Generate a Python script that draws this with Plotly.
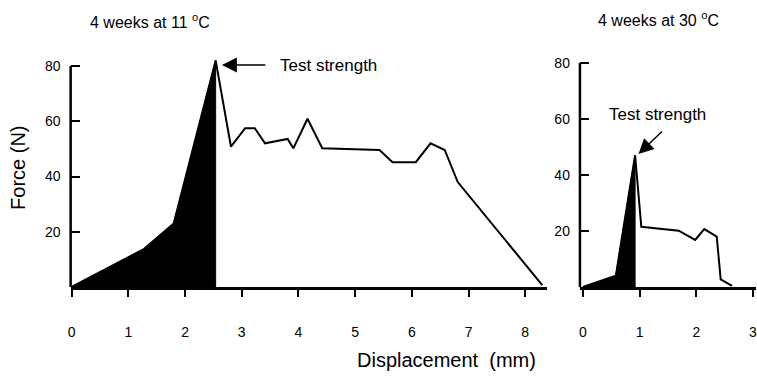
import plotly.graph_objects as go

# ---- data ----
disp_11 = [0, 1.28, 1.80, 2.54, 2.81, 3.06, 3.23, 3.41, 3.81, 3.91, 4.16, 4.42,
           5.43, 5.66, 6.07, 6.33, 6.58, 6.81, 8.30]
force_11 = [0, 13.8, 23.0, 82.0, 50.8, 57.5, 57.5, 52.0, 53.6, 50.2, 60.9, 50.2,
            49.6, 45.2, 45.2, 52.0, 49.6, 38.0, 0.7]
peak_11 = 3

disp_30 = [0, 0.58, 0.92, 1.03, 1.69, 1.98, 2.14, 2.36, 2.43, 2.63]
force_30 = [0, 4.0, 47.0, 21.5, 20.1, 16.8, 20.7, 18.0, 2.75, 0.4]
peak_30 = 2

xticks_11 = [0, 1, 2, 3, 4, 5, 6, 7, 8]
xticks_30 = [0, 1, 2, 3]
yticks = [20, 40, 60, 80]

title_11 = "4 weeks at 11 <sup>o</sup>C"
title_30 = "4 weeks at 30 <sup>o</sup>C"
ylabel = "Force (N)"
xlabel = "Displacement  (mm)"
note = "Test strength"

FONT = "Liberation Sans, Arial, Helvetica, sans-serif"
W, H = 757, 376


def px(x):
    return x / W


def py(y):
    return 1 - y / H


fig = go.Figure()

# filled area up to the test strength (peak)
for disp, force, pk, xa, ya in [(disp_11, force_11, peak_11, "x", "y"),
                                (disp_30, force_30, peak_30, "x2", "y2")]:
    fx = disp[:pk + 1] + [disp[pk]]
    fy = force[:pk + 1] + [0]
    fig.add_trace(go.Scatter(x=fx, y=fy, mode="lines", fill="toself",
                             fillcolor="black", line=dict(color="black", width=1),
                             xaxis=xa, yaxis=ya, hoverinfo="skip", showlegend=False))
    fig.add_trace(go.Scatter(x=disp, y=force, mode="lines",
                             line=dict(color="black", width=2),
                             xaxis=xa, yaxis=ya, showlegend=False))

ax_common = dict(showgrid=False, zeroline=False, color="black",
                 tickfont=dict(family=FONT, size=14, color="black"))

fig.update_layout(
    width=W, height=H,
    margin=dict(l=0, r=0, t=0, b=0),
    paper_bgcolor="white", plot_bgcolor="white",
    font=dict(family=FONT, color="black"),
    xaxis=dict(domain=[px(68), px(547)], range=[-1 / 57, 478 / 57],
               anchor="y", showline=True, linewidth=2.5, linecolor="black",
               ticks="outside", ticklen=7, tickwidth=2, tickcolor="black",
               tickvals=xticks_11, ticklabelstandoff=23, **ax_common),
    yaxis=dict(domain=[py(287), py(287 - 84 * 2.7625)], range=[0, 84],
               anchor="x", showline=False, ticks="inside", ticklen=9,
               tickwidth=2, tickcolor="black", tickvals=yticks,
               ticklabelstandoff=9, **ax_common),
    xaxis2=dict(domain=[px(580), 1.0], range=[-3 / 57, 174 / 57],
                anchor="y2", showline=True, linewidth=2.5, linecolor="black",
                ticks="outside", ticklen=7, tickwidth=2, tickcolor="black",
                tickvals=xticks_30, ticklabelstandoff=23,
                ticklabeloverflow="allow", **ax_common),
    yaxis2=dict(domain=[py(287), py(287 - 84 * 2.8)], range=[0, 84],
                anchor="x2", showline=False, ticks="inside", ticklen=9,
                tickwidth=2, tickcolor="black", tickvals=yticks,
                ticklabelstandoff=9, **ax_common),
)

# vertical axis lines stopping at the 80 tick
for xr, yr in [("x domain", "y"), ("x2 domain", "y2")]:
    fig.add_shape(type="line", xref=xr, yref=yr, x0=0, x1=0, y0=0, y1=yticks[-1],
                  line=dict(color="black", width=2.5))

C = dict(xref="paper", yref="paper", xanchor="center", yanchor="middle",
         showarrow=False)
ann = []
ann.append(dict(text=title_11, x=px(148), y=py(21), font=dict(size=16), **C))
ann.append(dict(text=title_30, x=px(659), y=py(19), font=dict(size=16), **C))
ann.append(dict(text=ylabel, x=px(15), y=py(168), textangle=-90,
                font=dict(size=20), **C))
ann.append(dict(text=xlabel, x=px(446), y=py(360), font=dict(size=20), **C))
ann.append(dict(text=note, x=px(327), y=py(66), font=dict(size=17), **C))
ann.append(dict(text=note, x=px(658), y=py(114), font=dict(size=17), **C))
# arrows
ann.append(dict(text="", x=2.65, y=80.4, xref="x", yref="y", ax=45, ay=0,
                showarrow=True, arrowhead=2, arrowsize=2, arrowwidth=1.5,
                arrowcolor="black"))
ann.append(dict(text="", x=0.98, y=47.5, xref="x2", yref="y2", ax=25, ay=-24,
                showarrow=True, arrowhead=2, arrowsize=2, arrowwidth=1.5,
                arrowcolor="black"))
fig.update_layout(annotations=ann)

fig.write_html("out.html")
